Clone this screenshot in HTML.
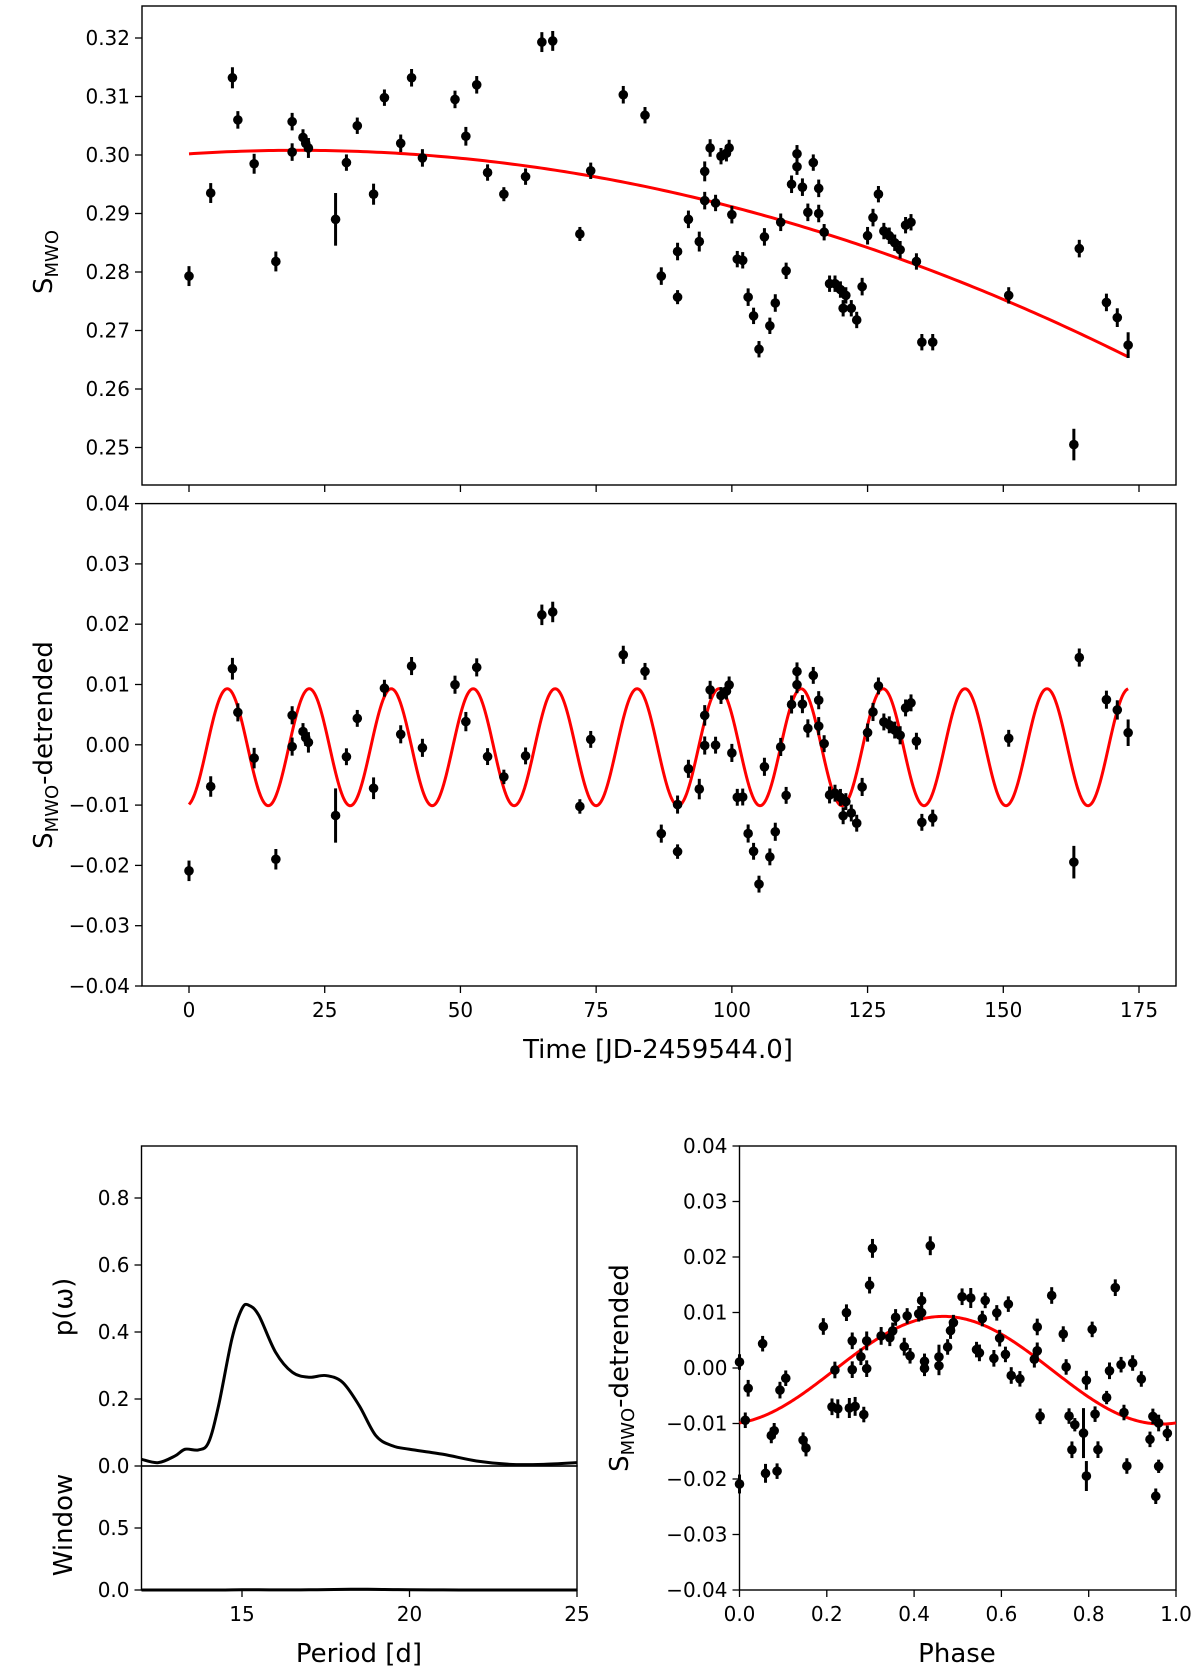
<!DOCTYPE html>
<html><head><meta charset="utf-8"><style>
html,body{margin:0;padding:0;background:#fff;}
svg{display:block;font-family:"DejaVu Sans","Liberation Sans",sans-serif;}
</style></head><body>
<svg id="fig" width="1200" height="1675" viewBox="0 0 1200 1675" xmlns="http://www.w3.org/2000/svg"></svg>
<script>
// ---- data ----
const times = [0,4,8,9,12,16,19,19,21,21.5,22,27,29,31,34,36,39,41,43,49,51,53,55,58,62,65,67,72,74,80,84,87,90,90,92,94,95,95,96,97,98,99,99.5,100,101,102,103,104,105,106,107,108,109,110,111,112,112,113,114,115,116,116,117,118,119,120,120.5,121,122,123,124,125,126,127,128,129,130,131,132,133,134,135,137,151,163,164,169,171,173];
const sValues = [0.2793,0.2935,0.3132,0.3060,0.2985,0.2818,0.3057,0.3005,0.3030,0.3020,0.3012,0.2890,0.2987,0.3050,0.2933,0.3098,0.3020,0.3132,0.2995,0.3095,0.3032,0.3120,0.2970,0.2933,0.2963,0.3193,0.3195,0.2865,0.2973,0.3103,0.3068,0.2793,0.2835,0.2757,0.2890,0.2852,0.2972,0.2922,0.3012,0.2918,0.2998,0.3003,0.3012,0.2898,0.2822,0.2820,0.2757,0.2725,0.2668,0.2860,0.2708,0.2747,0.2885,0.2802,0.2950,0.2980,0.3002,0.2945,0.2902,0.2987,0.2900,0.2943,0.2868,0.2780,0.2780,0.2770,0.2738,0.2760,0.2738,0.2718,0.2775,0.2862,0.2893,0.2933,0.2870,0.2862,0.2850,0.2838,0.2880,0.2885,0.2818,0.2680,0.2680,0.2760,0.2505,0.2840,0.2748,0.2722,0.2675];
const sErrors = [0.0017,0.0017,0.0018,0.0015,0.0017,0.0017,0.0015,0.0015,0.0014,0.0014,0.0017,0.0045,0.0014,0.0014,0.0018,0.0014,0.0015,0.0015,0.0015,0.0015,0.0016,0.0015,0.0014,0.0012,0.0014,0.0017,0.0017,0.0012,0.0014,0.0015,0.0014,0.0015,0.0015,0.0012,0.0015,0.0017,0.0017,0.0015,0.0015,0.0014,0.0014,0.0014,0.0014,0.0015,0.0014,0.0014,0.0015,0.0014,0.0014,0.0015,0.0014,0.0015,0.0015,0.0014,0.0015,0.0014,0.0015,0.0015,0.0015,0.0014,0.0015,0.0015,0.0014,0.0014,0.0014,0.0014,0.0014,0.0014,0.0014,0.0014,0.0015,0.0015,0.0015,0.0014,0.0014,0.0014,0.0014,0.0015,0.0014,0.0014,0.0014,0.0014,0.0014,0.0014,0.0027,0.0015,0.0015,0.0016,0.0022];
const trendCoef = [0.3002, 6.03e-5, -1.508e-6];
const sineParams = [-0.0004, 0.0097, 15.1, -0.5]; // mean, amplitude, period, t of minimum
const periods = [12,12.5,13,13.3,13.7,14,14.3,14.7,15.0,15.2,15.5,16,16.5,17,17.5,18,18.5,19,19.5,20,21,22,23,24,25];
const power = [0.02,0.01,0.03,0.05,0.048,0.07,0.18,0.38,0.47,0.48,0.45,0.34,0.28,0.265,0.27,0.25,0.18,0.09,0.06,0.05,0.035,0.015,0.005,0.005,0.01];
const windowPower = [0.0,0.0,0.0,0.0,0.0,0.0,0.0,0.001,0.002,0.002,0.002,0.001,0.001,0.002,0.003,0.005,0.006,0.005,0.003,0.002,0.001,0.0,0.0,0.0,0.0];
const timeTicks = [0,25,50,75,100,125,150,175];
const sTicks = [0.25,0.26,0.27,0.28,0.29,0.30,0.31,0.32];
const detTicks = [-0.04,-0.03,-0.02,-0.01,0.00,0.01,0.02,0.03,0.04];
const periodTicks = [15,20,25];
const powerTicks = [0.0,0.2,0.4,0.6,0.8];
const windowTicks = [0.0,0.5];
const phaseTicks = [0.0,0.2,0.4,0.6,0.8,1.0];

const NS='http://www.w3.org/2000/svg';
const svg=document.getElementById('fig');
function mk(tag,attrs,parent){const e=document.createElementNS(NS,tag);for(const k in attrs)e.setAttribute(k,attrs[k]);(parent||svg).appendChild(e);return e;}
function lin(d0,d1,r0,r1){return v=>r0+(v-d0)*(r1-r0)/(d1-d0);}
const trend=t=>trendCoef[0]+trendCoef[1]*t+trendCoef[2]*t*t;
const sine=t=>sineParams[0]-sineParams[1]*Math.cos(2*Math.PI*(t-sineParams[3])/sineParams[2]);

function frame(x0,y0,x1,y1,name){
  const r=mk('rect',{x:x0,y:y0,width:x1-x0,height:y1-y0,fill:'none',stroke:'#000','stroke-width':1.4});
  
  
}
function yTicks(ticks,sy,x0,fmt,name){
  const g=mk('g',{});
  
  
  ticks.forEach(v=>{const y=sy(v);
    mk('line',{x1:x0-7,x2:x0,y1:y,y2:y,stroke:'#000','stroke-width':1.3},g);
    const t=mk('text',{x:x0-12,y:y+7,'font-size':20,'text-anchor':'end'},g);
    t.textContent=fmt(v);});
}
function xTicks(ticks,sx,y0,fmt,name,labels){
  const g=mk('g',{});
  
  
  ticks.forEach(v=>{const x=sx(v);
    mk('line',{x1:x,x2:x,y1:y0,y2:y0+7,stroke:'#000','stroke-width':1.3},g);
    if(labels){const t=mk('text',{x:x,y:y0+31,'font-size':20,'text-anchor':'middle'},g);t.textContent=fmt(v);}});
}
const fmtSigned=d=>v=>(v<0?'\u2212':'')+Math.abs(v).toFixed(d);
function errPoints(xs,ys,es,sx,sy,name){
  const g=mk('g',{});
  
  
  xs.forEach((xv,i)=>{const x=sx(xv),y=sy(ys[i]);
    mk('line',{x1:x,x2:x,y1:sy(ys[i]-es[i]),y2:sy(ys[i]+es[i]),stroke:'#000','stroke-width':3},g);
    const c=mk('circle',{cx:x,cy:y,r:4.8,fill:'#000'},g);
    
    });
}
function curve(fn,a,b,n,sx,sy,color,w,name){
  let d='';for(let i=0;i<=n;i++){const v=a+(b-a)*i/n;d+=(i?'L':'M')+sx(v).toFixed(2)+','+sy(fn(v)).toFixed(2);}
  const p=mk('path',{d:d,fill:'none',stroke:color,'stroke-width':w});
  
  
}
function ylabelS(cx,cy,suffix,name){
  const t=mk('text',{transform:`translate(${cx},${cy}) rotate(-90)`,'text-anchor':'middle','font-size':26});
  
  
  t.innerHTML='S<tspan font-size="18" dy="6">MWO</tspan>'+(suffix?'<tspan dy="-6">'+suffix+'</tspan>':'');
}

// ---- top panel ----
const TL=142,TR=1176;
const sxT=lin(0,175,189,1139);
const syTop=lin(0.25,0.32,447.5,38);
frame(TL,6,TR,485,'top-axes');
yTicks(sTicks,syTop,TL,fmtSigned(2),'top-y-ticks');
xTicks(timeTicks,sxT,485,fmtSigned(0),'top-x-ticks',false);
curve(trend,0,173,200,sxT,syTop,'#ff0000',3,'trend-fit-line');
errPoints(times,sValues,sErrors,sxT,syTop,'s-mwo-points');
ylabelS(52,262,'','top-y-axis-title');

// ---- middle panel ----
const detVals=times.map((t,i)=>sValues[i]-trend(t));
const syMid=lin(-0.04,0.04,986,503.6);
frame(TL,503.6,TR,986,'middle-axes');
yTicks(detTicks,syMid,TL,fmtSigned(2),'middle-y-ticks');
xTicks(timeTicks,sxT,986,fmtSigned(0),'time-x-ticks',true);
curve(sine,0,173,800,sxT,syMid,'#ff0000',3,'sine-fit-line');
errPoints(times,detVals,sErrors,sxT,syMid,'detrended-points');
ylabelS(52,745,'-detrended','middle-y-axis-title');
let tl=mk('text',{x:658,y:1058,'text-anchor':'middle','font-size':26});tl.textContent='Time [JD-2459544.0]';



// ---- periodogram ----
const PL=141.5,PR=577;
const sxP=lin(12,25,PL,PR);
const syP=lin(0,0.2,1466,1399);
const syW=lin(0,1.0,1590,1466);
frame(PL,1146,PR,1466,'periodogram-axes');
frame(PL,1466,PR,1590,'window-axes');
yTicks(powerTicks,syP,PL,v=>v.toFixed(1),'power-y-ticks');
yTicks(windowTicks,syW,PL,v=>v.toFixed(1),'window-y-ticks');
xTicks(periodTicks,sxP,1590,v=>String(v),'period-x-ticks',true);
function smoothPath(xs,ys,sx,sy,name){
  const P=xs.map((x,i)=>[sx(x),sy(ys[i])]);
  let d='M'+P[0][0].toFixed(2)+','+P[0][1].toFixed(2);
  for(let i=0;i<P.length-1;i++){
    const p0=P[Math.max(0,i-1)],p1=P[i],p2=P[i+1],p3=P[Math.min(P.length-1,i+2)];
    const c1=[p1[0]+(p2[0]-p0[0])/6,p1[1]+(p2[1]-p0[1])/6];
    const c2=[p2[0]-(p3[0]-p1[0])/6,p2[1]-(p3[1]-p1[1])/6];
    d+='C'+c1.map(v=>v.toFixed(2)).join(',')+' '+c2.map(v=>v.toFixed(2)).join(',')+' '+p2[0].toFixed(2)+','+p2[1].toFixed(2);
  }
  const p=mk('path',{d:d,fill:'none',stroke:'#000','stroke-width':3,'stroke-linejoin':'round'});
  
  
}
smoothPath(periods,power,sxP,syP,'periodogram-line');
smoothPath(periods,windowPower,sxP,syW,'window-line');
let pl=mk('text',{transform:'translate(72,1307) rotate(-90)','text-anchor':'middle','font-size':26});pl.textContent='p(\u03c9)';


let wl=mk('text',{transform:'translate(72,1525) rotate(-90)','text-anchor':'middle','font-size':26});wl.textContent='Window';


let px=mk('text',{x:359,y:1662,'text-anchor':'middle','font-size':26});px.textContent='Period [d]';



// ---- phase plot ----
const FL=739.5,FR=1176;
const sxF=lin(0,1,FL,FR);
const syF=lin(-0.04,0.04,1590,1146);
frame(FL,1146,FR,1590,'phase-axes');
yTicks(detTicks,syF,FL,fmtSigned(2),'phase-y-ticks');
xTicks(phaseTicks,sxF,1590,v=>v.toFixed(1),'phase-x-ticks',true);
const phases=times.map(t=>{const p=(t/sineParams[2])%1;return p<0?p+1:p;});
curve(p=>sine(p*sineParams[2]),0,1,300,sxF,syF,'#ff0000',3,'phase-fit-line');
errPoints(phases,detVals,sErrors,sxF,syF,'phase-points');
ylabelS(628,1368,'-detrended','phase-y-axis-title');
let fx=mk('text',{x:957,y:1662,'text-anchor':'middle','font-size':26});fx.textContent='Phase';


</script>
</body></html>
